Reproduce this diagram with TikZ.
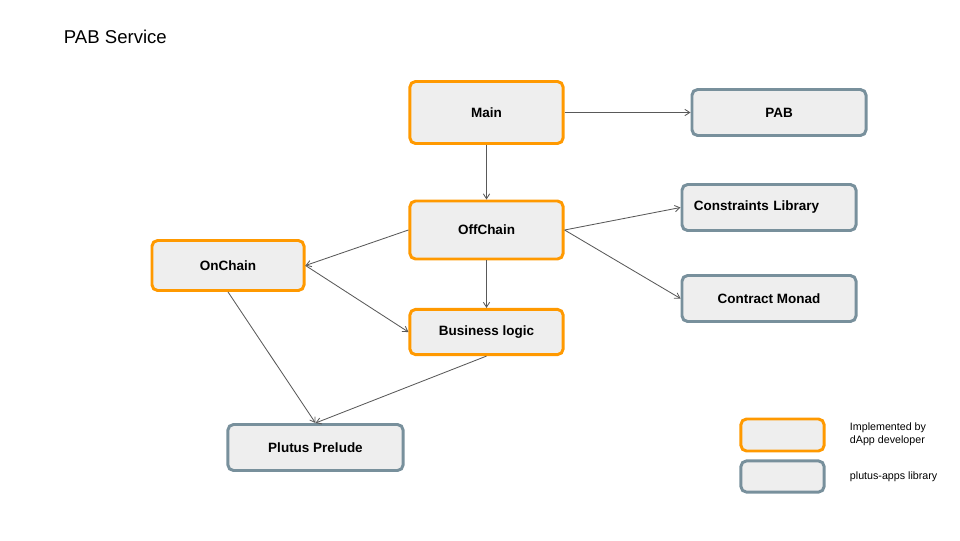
\documentclass[tikz,border=0pt]{standalone}
\usepackage{fontspec}
\setmainfont{Liberation Sans}
\usetikzlibrary{arrows.meta}

\definecolor{devorange}{HTML}{FF9900}
\definecolor{libgrey}{HTML}{78909C}
\definecolor{boxfill}{HTML}{EEEEEE}
\definecolor{linkgrey}{HTML}{595959}

\begin{document}
\begin{tikzpicture}[x=0.025cm,y=-0.025cm,
	devbox/.style={draw=devorange,line width=2.1pt,fill=boxfill,rounded corners=4pt,inner sep=0pt,font=\fontsize{9.6}{11}\selectfont\bfseries},
	libbox/.style={draw=libgrey,line width=2.1pt,fill=boxfill,rounded corners=4pt,inner sep=0pt,font=\fontsize{9.6}{11}\selectfont\bfseries},
	link/.style={draw=linkgrey,line width=0.6pt,-{Straight Barb[length=3.5pt,width=4.5pt]}}]
%			\draw[step=20,red,very thin] (0,0) grid (960,540);
			\useasboundingbox (0,0) rectangle (960,540);

			\node[font=\fontsize{13.2}{15}\selectfont,anchor=west]at(59,37) (title) {PAB Service};

			\node[devbox,minimum width=3.83cm,minimum height=1.55cm]at(486.5,112.5) (main) {Main};
			\node[libbox,minimum width=4.35cm,minimum height=1.15cm]at(779,112.5) (pab) {PAB};
			\node[devbox,minimum width=3.83cm,minimum height=1.45cm]at(486.5,230) (offchain) {OffChain};
			\node[libbox,text width=3.75cm,inner xsep=0.3cm,align=left,minimum height=1.15cm]at(769,207.5) (constraints) {Constraints Library};
			\node[libbox,minimum width=4.35cm,minimum height=1.15cm]at(769,298.5) (monad) {Contract Monad};
			\node[devbox,minimum width=3.8cm,minimum height=1.25cm]at(228,265.5) (onchain) {OnChain};
			\node[devbox,minimum width=3.83cm,minimum height=1.13cm]at(486.5,332) (business) {Business logic};
			\node[libbox,minimum width=4.38cm,minimum height=1.15cm]at(315.5,447.5) (prelude) {Plutus Prelude};

			\draw[link](main.east)--(pab.west);
			\draw[link](main.south)--(offchain.north);
			\draw[link](offchain.east)--(constraints.west);
			\draw[link](offchain.east)--(monad.west);
			\draw[link](offchain.west)--(onchain.east);
			\draw[link](offchain.south)--(business.north);
			\draw[link](onchain.east)--(business.west);
			\draw[link](onchain.south)--(prelude.north);
			\draw[link](business.south)--(prelude.north);

			% legend
			\node[devbox,minimum width=2.08cm,minimum height=0.8cm]at(782.5,435) (legdev) {};
			\node[libbox,minimum width=2.08cm,minimum height=0.78cm]at(782.5,476.5) (leglib) {};
			\node[font=\fontsize{7.6}{9.6}\selectfont,anchor=west,align=left]at(845,434) (legdevtext) {Implemented by\\dApp developer};
			\node[font=\fontsize{7.6}{9.6}\selectfont,anchor=west]at(845,477) (leglibtext) {plutus-apps library};
\end{tikzpicture}
\end{document}
